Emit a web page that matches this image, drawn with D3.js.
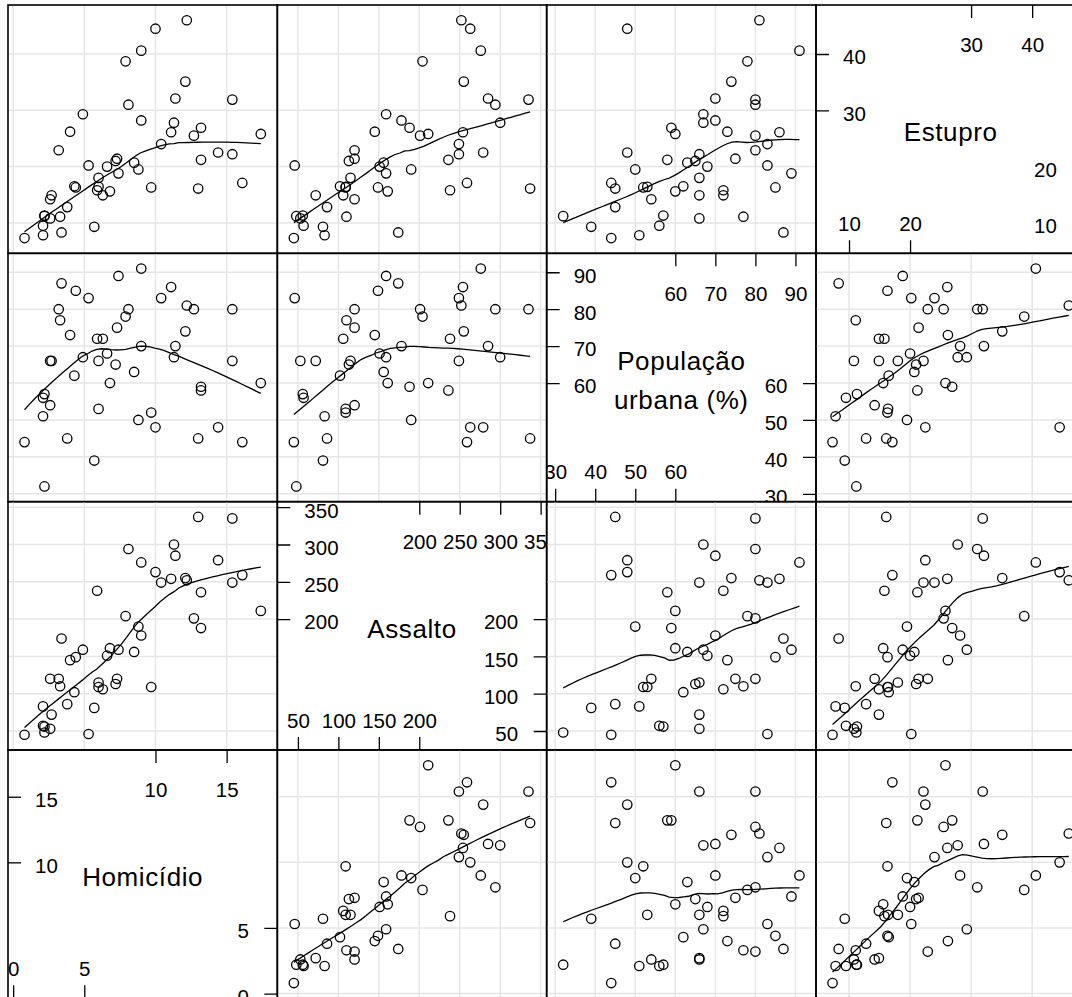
<!DOCTYPE html>
<html>
<head>
<meta charset="utf-8">
<script src="https://cdn.jsdelivr.net/npm/d3@7"></script>
<style>
  body { margin: 0; background: #fff; overflow: hidden; }
  svg { display: block; }
  text { font-family: "Liberation Sans", Arial, Helvetica, sans-serif; fill: #000; }
</style>
</head>
<body>
<div id="chart"></div>
<script>
// USArrests, one value per state
const states = ['Alabama','Alaska','Arizona','Arkansas','California','Colorado','Connecticut','Delaware','Florida','Georgia',
  'Hawaii','Idaho','Illinois','Indiana','Iowa','Kansas','Kentucky','Louisiana','Maine','Maryland',
  'Massachusetts','Michigan','Minnesota','Mississippi','Missouri','Montana','Nebraska','Nevada','New Hampshire','New Jersey',
  'New Mexico','New York','North Carolina','North Dakota','Ohio','Oklahoma','Oregon','Pennsylvania','Rhode Island','South Carolina',
  'South Dakota','Tennessee','Texas','Utah','Vermont','Virginia','Washington','West Virginia','Wisconsin','Wyoming'];
const murder = [13.2,10.0,8.1,8.8,9.0,7.9,3.3,5.9,15.4,17.4,
  5.3,2.6,10.4,7.2,2.2,6.0,9.7,15.4,2.1,11.3,
  4.4,12.1,2.7,16.1,9.0,6.0,4.3,12.2,2.1,7.4,
  11.4,11.1,13.0,0.8,7.3,6.6,4.9,6.3,3.4,14.4,
  3.8,13.2,12.7,3.2,2.2,8.5,4.0,5.7,2.6,6.8];
const assault = [236,263,294,190,276,204,110,238,335,211,
  46,120,249,113,56,115,109,249,83,300,
  149,255,72,259,178,109,102,252,57,159,
  285,254,337,45,120,151,159,106,174,279,
  86,188,201,120,48,156,145,81,53,161];
const urbanPop = [58,48,80,50,91,78,77,72,80,60,
  83,54,83,65,57,66,52,66,51,67,
  85,74,66,44,70,53,62,81,56,89,
  70,86,45,44,75,68,67,72,87,48,
  45,59,80,80,32,63,73,39,66,60];
const rape = [21.2,44.5,31.0,19.5,40.6,38.7,11.1,15.8,31.9,25.8,
  20.2,14.2,24.0,21.0,11.3,18.0,16.3,22.2,7.8,27.8,
  16.3,35.1,14.9,17.1,28.2,16.4,16.5,46.0,9.5,18.8,
  32.1,26.1,16.1,7.3,21.4,20.0,29.3,14.9,8.3,22.5,
  12.8,26.9,25.5,22.9,11.2,20.7,26.2,9.3,10.8,15.6];

const varNames = [['Homicídio'], ['Assalto'], ['População', 'urbana (%)'], ['Estupro']];
const tickValues = [
  [0, 5, 10, 15],
  [50, 100, 150, 200, 250, 300, 350],
  [30, 40, 50, 60, 70, 80, 90],
  [10, 20, 30, 40]
];

const columns = [murder, assault, urbanPop, rape];

// layout of the (larger than window) splom
const W = 1072, H = 997;
const left0 = 8, top0 = 5;
const pw = 269.33, ph = 248.33;
const nv = columns.length;
const tickLen = 13;
const tickFont = 20.5;
const nameFont = 26;

// lattice style range: data range padded by 7%
const domains = columns.map((v) => {
  const [lo, hi] = d3.extent(v);
  const pad = (hi - lo) * 0.07;
  return [lo - pad, hi + pad];
});

// loess (degree 1, span 2/3, symmetric family) like panel.loess
function loess(xs, ys, evalX, span = 2 / 3, iterations = 4) {
  const n = xs.length;
  const q = Math.floor(n * span);
  let rw = new Array(n).fill(1);
  const fitAt = (x0) => {
    const d = xs.map((x) => Math.abs(x - x0));
    const h = d.slice().sort((a, b) => a - b)[q - 1] || 1e-9;
    let sw = 0, sx = 0, sy = 0;
    const w = d.map((di, i) => {
      const u = di / h;
      const wi = u < 1 ? rw[i] * Math.pow(1 - u * u * u, 3) : 0;
      sw += wi; sx += wi * xs[i]; sy += wi * ys[i];
      return wi;
    });
    if (sw === 0) return d3.mean(ys);
    const xm = sx / sw, ym = sy / sw;
    let sxx = 0, sxy = 0;
    for (let i = 0; i < n; i++) {
      sxx += w[i] * (xs[i] - xm) * (xs[i] - xm);
      sxy += w[i] * (xs[i] - xm) * (ys[i] - ym);
    }
    const b = sxx > 1e-12 ? sxy / sxx : 0;
    return ym + b * (x0 - xm);
  };
  for (let it = 0; it < iterations - 1; it++) {
    const res = xs.map((x, i) => ys[i] - fitAt(x));
    const s = d3.median(res.map(Math.abs)) || 1e-9;
    rw = res.map((r) => {
      const u = r / (6 * s);
      return Math.abs(u) < 1 ? (1 - u * u) * (1 - u * u) : 0;
    });
  }
  return evalX.map((x) => [x, fitAt(x)]);
}

const svg = d3.select('#chart').append('svg')
  .attr('width', W)
  .attr('height', H);

svg.append('rect').attr('width', W).attr('height', H).attr('fill', '#fff');

const defs = svg.append('defs');

for (let row = 0; row < nv; row++) {
  for (let col = 0; col < nv; col++) {
    const xv = col;
    const yv = nv - 1 - row;
    const px = left0 + col * pw;
    const py = top0 + row * ph;
    const id = `clip-${row}-${col}`;
    defs.append('clipPath').attr('id', id)
      .append('rect').attr('x', px).attr('y', py).attr('width', pw).attr('height', ph);

    const x = d3.scaleLinear().domain(domains[xv]).range([px, px + pw]);
    const y = d3.scaleLinear().domain(domains[yv]).range([py + ph, py]);

    const g = svg.append('g').attr('clip-path', `url(#${id})`);

    if (xv === yv) {
      // diagonal: variable name and half axes
      const names = varNames[xv];
      const cx = px + pw / 2, cy = py + ph / 2 + 12;
      names.forEach((nm, k) => {
        g.append('text')
          .attr('x', cx)
          .attr('y', cy + (k - (names.length - 1) / 2) * 38.3)
          .attr('text-anchor', 'middle')
          .attr('font-size', nameFont)
          .attr('letter-spacing', 0.6)
          .text(nm);
      });

      const ticks = tickValues[xv];
      const half = Math.ceil(ticks.length / 2);
      const lower = ticks.slice(0, half);
      const upper = ticks.slice(ticks.length - half);

      const styleAxis = (sel) => {
        sel.select('.domain').remove();
        sel.attr('font-size', null).attr('font-family', null);
        sel.selectAll('line').attr('stroke', '#000').attr('stroke-width', 1.3);
        sel.selectAll('text').attr('font-size', tickFont).attr('fill', '#000');
      };

      // bottom edge, lower half
      g.append('g').attr('transform', `translate(0,${py + ph})`)
        .call(d3.axisTop(x).tickValues(lower).tickSize(tickLen).tickPadding(9.2))
        .call(styleAxis);
      // top edge, upper half
      g.append('g').attr('transform', `translate(0,${py})`)
        .call(d3.axisBottom(x).tickValues(upper).tickSize(tickLen).tickPadding(19.7))
        .call(styleAxis);
      // left edge, upper half
      g.append('g').attr('transform', `translate(${px},0)`)
        .call(d3.axisRight(y).tickValues(upper).tickSize(tickLen).tickPadding(14))
        .call(styleAxis)
        .selectAll('text').attr('dy', null).attr('y', 9.8);
      // right edge, lower half
      g.append('g').attr('transform', `translate(${px + pw},0)`)
        .call(d3.axisLeft(y).tickValues(lower).tickSize(tickLen).tickPadding(15.5))
        .call(styleAxis)
        .selectAll('text').attr('dy', null).attr('y', 9.8);
    } else {
      // grid
      g.selectAll('.vgrid')
        .data(tickValues[xv])
        .enter().append('line')
        .attr('x1', (d) => x(d)).attr('x2', (d) => x(d))
        .attr('y1', py).attr('y2', py + ph)
        .attr('stroke', '#e6e6e6').attr('stroke-width', 1.5);
      g.selectAll('.hgrid')
        .data(tickValues[yv])
        .enter().append('line')
        .attr('x1', px).attr('x2', px + pw)
        .attr('y1', (d) => y(d)).attr('y2', (d) => y(d))
        .attr('stroke', '#e6e6e6').attr('stroke-width', 1.5);

      const xs = columns[xv], ys = columns[yv];

      // points
      g.selectAll('circle')
        .data(states)
        .enter().append('circle')
        .attr('cx', (d, i) => x(xs[i]))
        .attr('cy', (d, i) => y(ys[i]))
        .attr('r', 4.7)
        .attr('fill', 'none')
        .attr('stroke', '#000')
        .attr('stroke-width', 1.3);

      // smoother
      const [lo, hi] = d3.extent(xs);
      const evalX = d3.range(50).map((k) => lo + (hi - lo) * k / 49);
      const fit = loess(xs, ys, evalX);
      g.append('path')
        .datum(fit)
        .attr('d', d3.line().x((d) => x(d[0])).y((d) => y(d[1])))
        .attr('fill', 'none')
        .attr('stroke', '#000')
        .attr('stroke-width', 1.3);
    }

    svg.append('rect')
      .attr('x', px).attr('y', py)
      .attr('width', pw).attr('height', ph)
      .attr('fill', 'none')
      .attr('stroke', '#000')
      .attr('stroke-width', 1.6);
  }
}
</script>
</body>
</html>
